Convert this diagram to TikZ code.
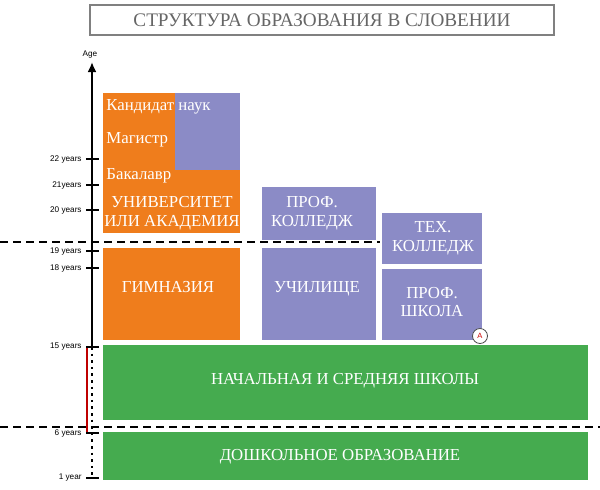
\documentclass[tikz,border=0pt]{standalone}
\usepackage{fontspec}
\usetikzlibrary{arrows.meta}
\setmainfont{Liberation Serif}
\newfontfamily\lab{Liberation Sans}
\definecolor{orng}{HTML}{EF7D1C}
\definecolor{purp}{HTML}{8B8BC6}
\definecolor{grn}{HTML}{45AB4F}
\begin{document}
\begin{tikzpicture}[x=0.5pt,y=-0.5pt,
  txt/.style={text=white,font=\fontsize{8.4}{9.4}\selectfont,align=center,inner sep=0},
  yl/.style={anchor=east,font=\lab\fontsize{4.1}{4.5}\selectfont,inner sep=0},
  dsh/.style={dashed,line width=1pt,dash pattern=on 4pt off 2.5pt}]
\useasboundingbox (0,0) rectangle (600,489);
\node[draw=gray,line width=0.6pt,minimum width=232pt,minimum height=15pt,text=gray!80!black,font=\fontsize{9.6}{11}\selectfont] (title) at (322,20) {СТРУКТУРА ОБРАЗОВАНИЯ В СЛОВЕНИИ};
% boxes
\fill[orng] (103,93) rectangle (240,233);
\fill[purp] (175,93) rectangle (240,170);
\node[txt,anchor=west] (kand) at (106,107) {Кандидат наук};
\node[txt,anchor=west] (mag) at (106,140) {Магистр};
\node[txt,anchor=west] (bak) at (106,176) {Бакалавр};
\node[txt] (univ) at (172,213) {УНИВЕРСИТЕТ\\ИЛИ АКАДЕМИЯ};
\fill[orng] (103,248) rectangle (240,340);
\node[txt] (gym) at (168,287) {ГИМНАЗИЯ};
\fill[purp] (262,187) rectangle (376,240);
\node[txt] (pk) at (312,213) {ПРОФ.\\КОЛЛЕДЖ};
\fill[purp] (262,248) rectangle (376,340);
\node[txt] (uch) at (317,289) {УЧИЛИЩЕ};
\fill[purp] (382,213) rectangle (482,264);
\node[txt] (tk) at (433,238) {ТЕХ.\\КОЛЛЕДЖ};
\fill[purp] (382,269) rectangle (482,340);
\node[txt] (ps) at (432,302) {ПРОФ.\\ШКОЛА};
\node[circle,draw=black!70,fill=white,minimum size=7.5pt,inner sep=0,text=red!80!black,font=\lab\fontsize{3.8}{4}\selectfont] (A) at (480,336) {A};
\fill[grn] (103,345) rectangle (588,420);
\node[txt] (nach) at (345,381) {НАЧАЛЬНАЯ И СРЕДНЯЯ ШКОЛЫ};
\fill[grn] (103,432) rectangle (588,480);
\node[txt] (dosh) at (340,457) {ДОШКОЛЬНОЕ ОБРАЗОВАНИЕ};
% dashed lines
\draw[dsh] (0,242) -- (380,242);
\draw[dsh] (0,427) -- (600,427);
% axis
\coordinate (top) at (92,62);
\coordinate (a15) at (92,347);
\coordinate (a1) at (92,478);
\draw[line width=1.1pt,-{Latex[length=5pt,width=4.5pt]}] (a15) -- (top);
\draw[line width=1.3pt,dotted] (a15) -- (a1);
\draw[red!75!black,line width=1.2pt] (87,347) -- (87,432);
\node[font=\lab\fontsize{4.1}{4.5}\selectfont] (age) at (90,55) {Age};
\foreach \y/\t in {159/22 years,185/21years,210/20 years,251/19 years,268/18 years,347/15 years,433/6 years,478/1 year}{
  \draw[line width=1pt] (86,\y) -- (99,\y);
  \node[yl] at (82,\y) {\t};
}
\end{tikzpicture}
\end{document}
